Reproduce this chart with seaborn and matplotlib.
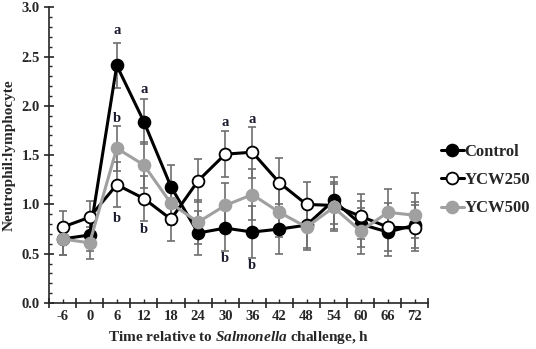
import numpy as np
import pandas as pd
import matplotlib
matplotlib.use("Agg")
import matplotlib.pyplot as plt
from matplotlib.ticker import MultipleLocator, FixedLocator
from matplotlib.lines import Line2D
import seaborn as sns

# ---- data ----
hours = [-6, 0, 6, 12, 18, 24, 30, 36, 42, 48, 54, 60, 66, 72]
control = [0.65, 0.69, 2.41, 1.84, 1.18, 0.71, 0.76, 0.72, 0.75, 0.79, 1.04, 0.80, 0.72, 0.79]
ycw250 = [0.77, 0.87, 1.20, 1.06, 0.85, 1.24, 1.51, 1.53, 1.22, 1.00, 0.99, 0.88, 0.77, 0.76]
ycw500 = [0.65, 0.61, 1.57, 1.40, 1.01, 0.82, 0.99, 1.10, 0.92, 0.77, 0.97, 0.73, 0.92, 0.89]
sem = [0.16, 0.16, 0.23, 0.23, 0.22, 0.22, 0.23, 0.26, 0.25, 0.23, 0.24, 0.23, 0.24, 0.23]
series_names = ["Control", "YCW250", "YCW500"]
y_ticks = [0.0, 0.5, 1.0, 1.5, 2.0, 2.5, 3.0]

# significance letters
letter_x = [6, 12, 6, 6, 12, 30, 36, 30, 36]
letter_y = [2.76, 2.17, 1.87, 0.86, 0.75, 1.83, 1.86, 0.45, 0.38]
letter_txt = ["a", "a", "b", "b", "b", "a", "a", "b", "b"]

sns.set_style("ticks")
plt.rcParams["font.family"] = ["Liberation Serif", "DejaVu Serif"]
plt.rcParams["font.weight"] = "bold"
plt.rcParams["mathtext.fontset"] = "custom"
plt.rcParams["mathtext.rm"] = "Liberation Serif:bold"
plt.rcParams["mathtext.it"] = "Liberation Serif:italic:bold"
plt.rcParams["mathtext.bf"] = "Liberation Serif:bold"

fig = plt.figure(figsize=(5.36, 3.49), dpi=100)
ax = fig.add_axes([49 / 536, 1 - 303 / 349, (428.5 - 49) / 536, (303 - 7.3) / 349])

styles = {
    "Control": dict(mfc="black", mec="black", lc="black"),
    "YCW250": dict(mfc="white", mec="black", lc="black"),
    "YCW500": dict(mfc="#a0a0a0", mec="#a0a0a0", lc="#a0a0a0"),
}
values = {"Control": control, "YCW250": ycw250, "YCW500": ycw500}

for name in series_names:
    ax.errorbar(hours, values[name], yerr=sem, fmt="none", ecolor="#6e6e6e",
                elinewidth=1.2, capsize=3, capthick=1.2, zorder=1)

for i, name in enumerate(series_names):
    st = styles[name]
    df = pd.DataFrame({"hour": hours, "value": values[name]})
    sns.lineplot(data=df, x="hour", y="value", ax=ax, color=st["lc"], linewidth=2.2,
                 marker="o", markersize=8.5, markerfacecolor=st["mfc"],
                 markeredgecolor=st["mec"], markeredgewidth=1.3,
                 zorder=3 + i, legend=False)

for xx, yy, tt in zip(letter_x, letter_y, letter_txt):
    ax.text(xx, yy, tt, ha="center", va="center", fontsize=10.5, fontweight="bold",
            color="#1a1a2e", zorder=10)

ax.set_xlim(-9, 75)
ax.set_ylim(0, 3.0)
ax.set_xticks(hours)
ax.set_xticklabels([str(h) for h in hours])
ax.xaxis.set_minor_locator(FixedLocator(np.arange(-9, 76, 6)))
ax.tick_params(axis="x", which="major", direction="in", length=3, width=1, pad=5, labelsize=10.5)
ax.tick_params(axis="x", which="minor", direction="inout", length=7, width=1.2)
ax.set_yticks(y_ticks)
ax.set_yticklabels([f"{v:.1f}" for v in y_ticks])
ax.yaxis.set_minor_locator(MultipleLocator(0.1))
ax.tick_params(axis="y", which="major", direction="inout", length=7, width=1.2, pad=3, labelsize=10.5)
ax.tick_params(axis="y", which="minor", direction="in", length=2.5, width=1)
for lab in ax.get_xticklabels() + ax.get_yticklabels():
    lab.set_fontweight("bold")
    lab.set_fontfamily("Liberation Serif")
for s in ["top", "right"]:
    ax.spines[s].set_visible(False)
for s in ["left", "bottom"]:
    ax.spines[s].set_linewidth(1.2)

ax.set_ylabel("Neutrophil:lymphocyte", fontsize=11, fontweight="bold", labelpad=4)
ax.set_xlabel(r"Time relative to $\mathit{Salmonella}$ challenge, h", fontsize=11,
              fontweight="bold", labelpad=4)

handles = []
for name in series_names:
    st = styles[name]
    handles.append(Line2D([], [], color=st["lc"], linewidth=2.2, marker="o", markersize=8.5,
                          markerfacecolor=st["mfc"], markeredgecolor=st["mec"], markeredgewidth=1.3))
fig.legend(handles, series_names, loc="center left", bbox_to_anchor=(426 / 536, 1 - 180 / 349),
           frameon=False, handlelength=1.35, handletextpad=0.05,
           labelspacing=0.75, prop={"weight": "bold", "size": 12})

fig.savefig("out.png", dpi=100)
